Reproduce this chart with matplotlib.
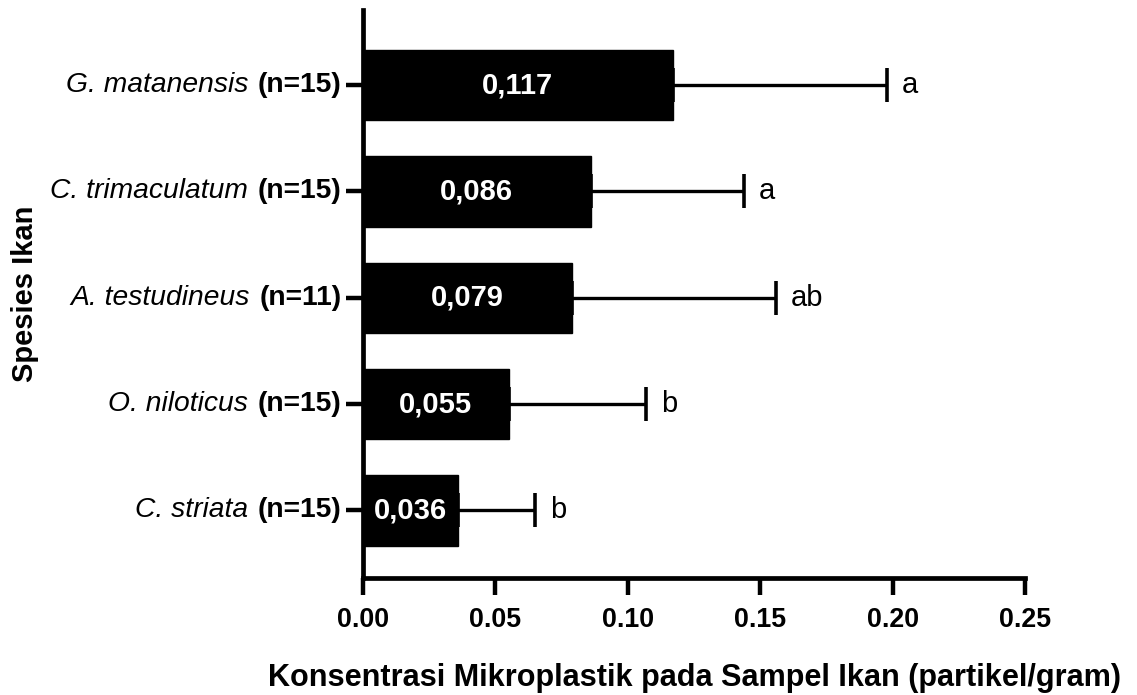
import matplotlib
matplotlib.use("Agg")
import matplotlib.pyplot as plt
import numpy as np
from matplotlib.offsetbox import TextArea, HPacker, AnnotationBbox

plt.rcParams['font.family'] = ['Liberation Sans', 'DejaVu Sans']

species = ['G. matanensis', 'C. trimaculatum', 'A. testudineus', 'O. niloticus', 'C. striata']
n_samples = [15, 15, 11, 15, 15]
means = [0.117, 0.086, 0.079, 0.055, 0.036]
errs_upper = [0.081, 0.058, 0.077, 0.052, 0.029]
letters = ['a', 'a', 'ab', 'b', 'b']
value_labels = ['0,117', '0,086', '0,079', '0,055', '0,036']
xticks = [0.00, 0.05, 0.10, 0.15, 0.20, 0.25]
xtick_labels = ['0.00', '0.05', '0.10', '0.15', '0.20', '0.25']

W, H = 1137, 695
fig = plt.figure(figsize=(W / 100, H / 100), dpi=100)
ax = fig.add_axes([363 / W, 1 - 577.5 / H, (1025 - 363) / W, (577.5 - 10) / H])

ypos = np.arange(len(species))
lower = np.zeros(len(means))
ax.barh(ypos, means, height=0.66, color='black', edgecolor='black',
        xerr=[lower, errs_upper],
        error_kw=dict(ecolor='black', elinewidth=2.4, capsize=12.2, capthick=2.6),
        zorder=2)

ax.set_xlim(0, 0.25)
ax.set_ylim(4.63, -0.706)

for sp in ['top', 'right']:
    ax.spines[sp].set_visible(False)
for sp in ['left', 'bottom']:
    ax.spines[sp].set_linewidth(3.4)

ax.set_xticks(xticks)
ax.set_xticklabels(xtick_labels, fontsize=19.3, fontweight='bold')
ax.tick_params(axis='x', length=12, width=3.2, pad=9)
ax.set_yticks(ypos)
ax.set_yticklabels([''] * len(species))
ax.tick_params(axis='y', length=12, width=3.2)

# y tick labels: italic species + bold n
for yi, (sp, n) in enumerate(zip(species, n_samples)):
    t1 = TextArea(sp, textprops=dict(fontsize=20.3, fontstyle='italic', color='black'))
    t2 = TextArea(f'(n={n})', textprops=dict(fontsize=20.3, fontweight='bold', color='black'))
    box = HPacker(children=[t1, t2], align='center', pad=0, sep=7)
    ab = AnnotationBbox(box, (0, ypos[yi]), xycoords=('axes fraction', 'data'),
                        xybox=(-15.5, 0), boxcoords='offset points',
                        box_alignment=(1, 0.5), frameon=False, annotation_clip=False)
    ax.add_artist(ab)

# values inside bars
for yi, (m, lab) in enumerate(zip(means, value_labels)):
    ax.text(m / 2, ypos[yi], lab, color='white', fontsize=21, fontweight='bold',
            ha='center', va='center', zorder=3)

# significance letters
for yi, (m, e, l) in enumerate(zip(means, errs_upper, letters)):
    ax.annotate(l, (m + e, ypos[yi]), xytext=(10.5, 0), textcoords='offset points',
                fontsize=21, ha='left', va='center')

fig.text(695 / W, 1 - 678 / H, 'Konsentrasi Mikroplastik pada Sampel Ikan (partikel/gram)',
         fontsize=22.1, fontweight='bold', ha='center', va='center')
fig.text(25 / W, 1 - 294 / H, 'Spesies Ikan', fontsize=21, fontweight='bold',
         rotation=90, ha='center', va='center')

fig.savefig('out.png', dpi=100)
